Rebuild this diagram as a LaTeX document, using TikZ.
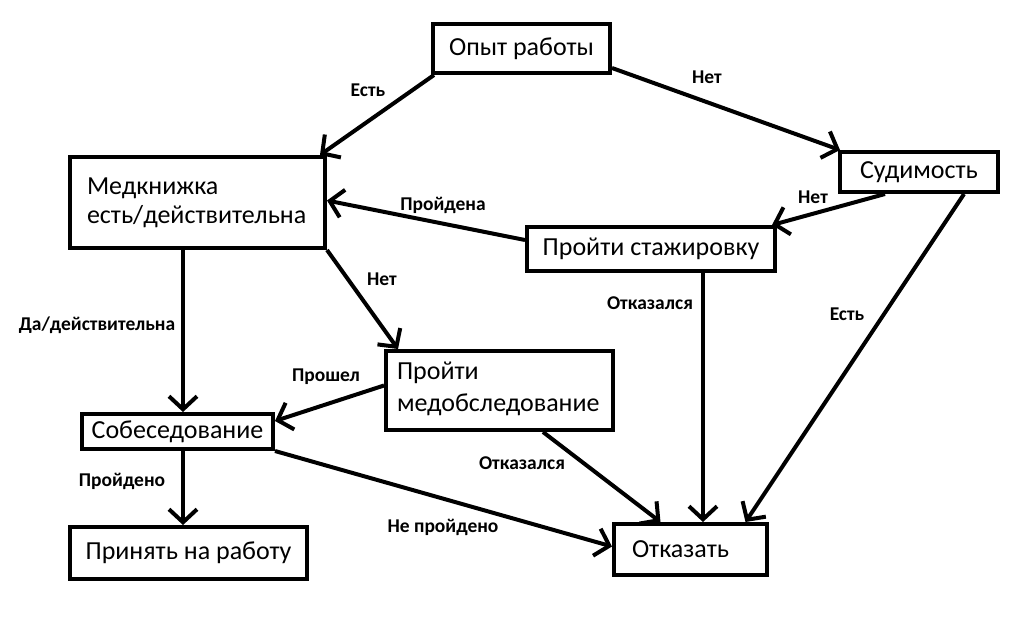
\documentclass[tikz,border=0pt]{standalone}
\usepackage{fontspec}
\setmainfont{Carlito}
\usetikzlibrary{arrows.meta,calc}

\tikzset{every picture/.style={line width=4pt}}
\tikzset{
	box/.style={draw, rectangle, inner sep=0pt, font=\fontsize{26}{30}\selectfont},
	lbl/.style={inner sep=0pt, font=\bfseries\fontsize{19.5}{22}\selectfont},
	arr/.style={-{Straight Barb[length=13pt,width=28pt]}, line width=4pt}
}

\begin{document}
\begin{tikzpicture}[x=1pt,y=1pt,yscale=-1,xscale=1]
	\useasboundingbox (0,0) rectangle (1017,635); %set diagram to the size of the reference

	% Boxes
	\node [box, minimum width=177, minimum height=49] (opyt) at (521.5,48.5) {Опыт работы};
	\node [box, minimum width=255, minimum height=91, text width=221, align=left, text depth=33pt] (medk) at (197.5,202.5) {Медкнижка\\[-1pt]есть/действительна};
	\node [box, minimum width=158, minimum height=40] (sud) at (919,172) {Судимость};
	\node [box, minimum width=248, minimum height=44] (staj) at (651,249) {Пройти стажировку};
	\node [box, minimum width=227, minimum height=79, text width=205, align=left, text depth=40pt] (medob) at (499.5,390.5) {Пройти\\[2pt]медобследование};
	\node [box, minimum width=191, minimum height=35] (sobes) at (177.5,431.5) {Собеседование};
	\node [box, minimum width=237, minimum height=52] (prin) at (188.5,553) {Принять на работу};
	\node [box, minimum width=153, minimum height=51, text width=117, align=left] (otk) at (690.5,549.5) {Отказать};

	%Straight Lines
	\draw [arr] ($(opyt.south west)+(3,0)$) -- ($(medk.north east)+(-7,0)$);
	\draw [arr] ($(opyt.south east)+(0,-7)$) -- ($(sud.north west)+(2,0)$);
	\draw [arr] ($(sud.south)+(-34,0)$) -- ($(staj.north east)+(-5,0)$);
	\draw [arr] ($(sud.south east)+(-36,0)$) -- ($(otk.north)+(55,0)$);
	\draw [arr] ($(staj.west)+(0,-9)$) -- ($(medk.east)+(0,-2)$);
	\draw [arr] ($(staj.south)+(52,0)$) -- ($(otk.north)+(12.5,0)$);
	\draw [arr] ($(medk.south)+(-14.5,0)$) -- ($(sobes.north)+(5.5,0)$);
	\draw [arr] (medk.south east) -- ($(medob.north west)+(14,0)$);
	\draw [arr] ($(medob.west)+(0,-5)$) -- ($(sobes.east)+(0,-10.5)$);
	\draw [arr] ($(medob.south)+(43.5,0)$) -- ($(otk.north)+(-30,0)$);
	\draw [arr] ($(sobes.south)+(5.5,0)$) -- ($(prin.north)+(-5.5,0)$);
	\draw [arr] (sobes.south east) -- ($(otk.west)+(0,-3)$);

	% Text Node
	\node [lbl] (l1) at (368,90) {Есть};
	% Text Node
	\node [lbl] (l2) at (707,77) {Нет};
	% Text Node
	\node [lbl] (l3) at (813,197) {Нет};
	% Text Node
	\node [lbl] (l4) at (847,314) {Есть};
	% Text Node
	\node [lbl] (l5) at (443,205) {Пройдена};
	% Text Node
	\node [lbl] (l6) at (650,303) {Отказался};
	% Text Node
	\node [lbl] (l7) at (97,325) {Да/действительна};
	% Text Node
	\node [lbl] (l8) at (382,279) {Нет};
	% Text Node
	\node [lbl] (l9) at (326,377) {Прошел};
	% Text Node
	\node [lbl] (l10) at (522,463) {Отказался};
	% Text Node
	\node [lbl] (l11) at (122,481) {Пройдено};
	% Text Node
	\node [lbl] (l12) at (443,527) {Не пройдено};

\end{tikzpicture}
\end{document}
